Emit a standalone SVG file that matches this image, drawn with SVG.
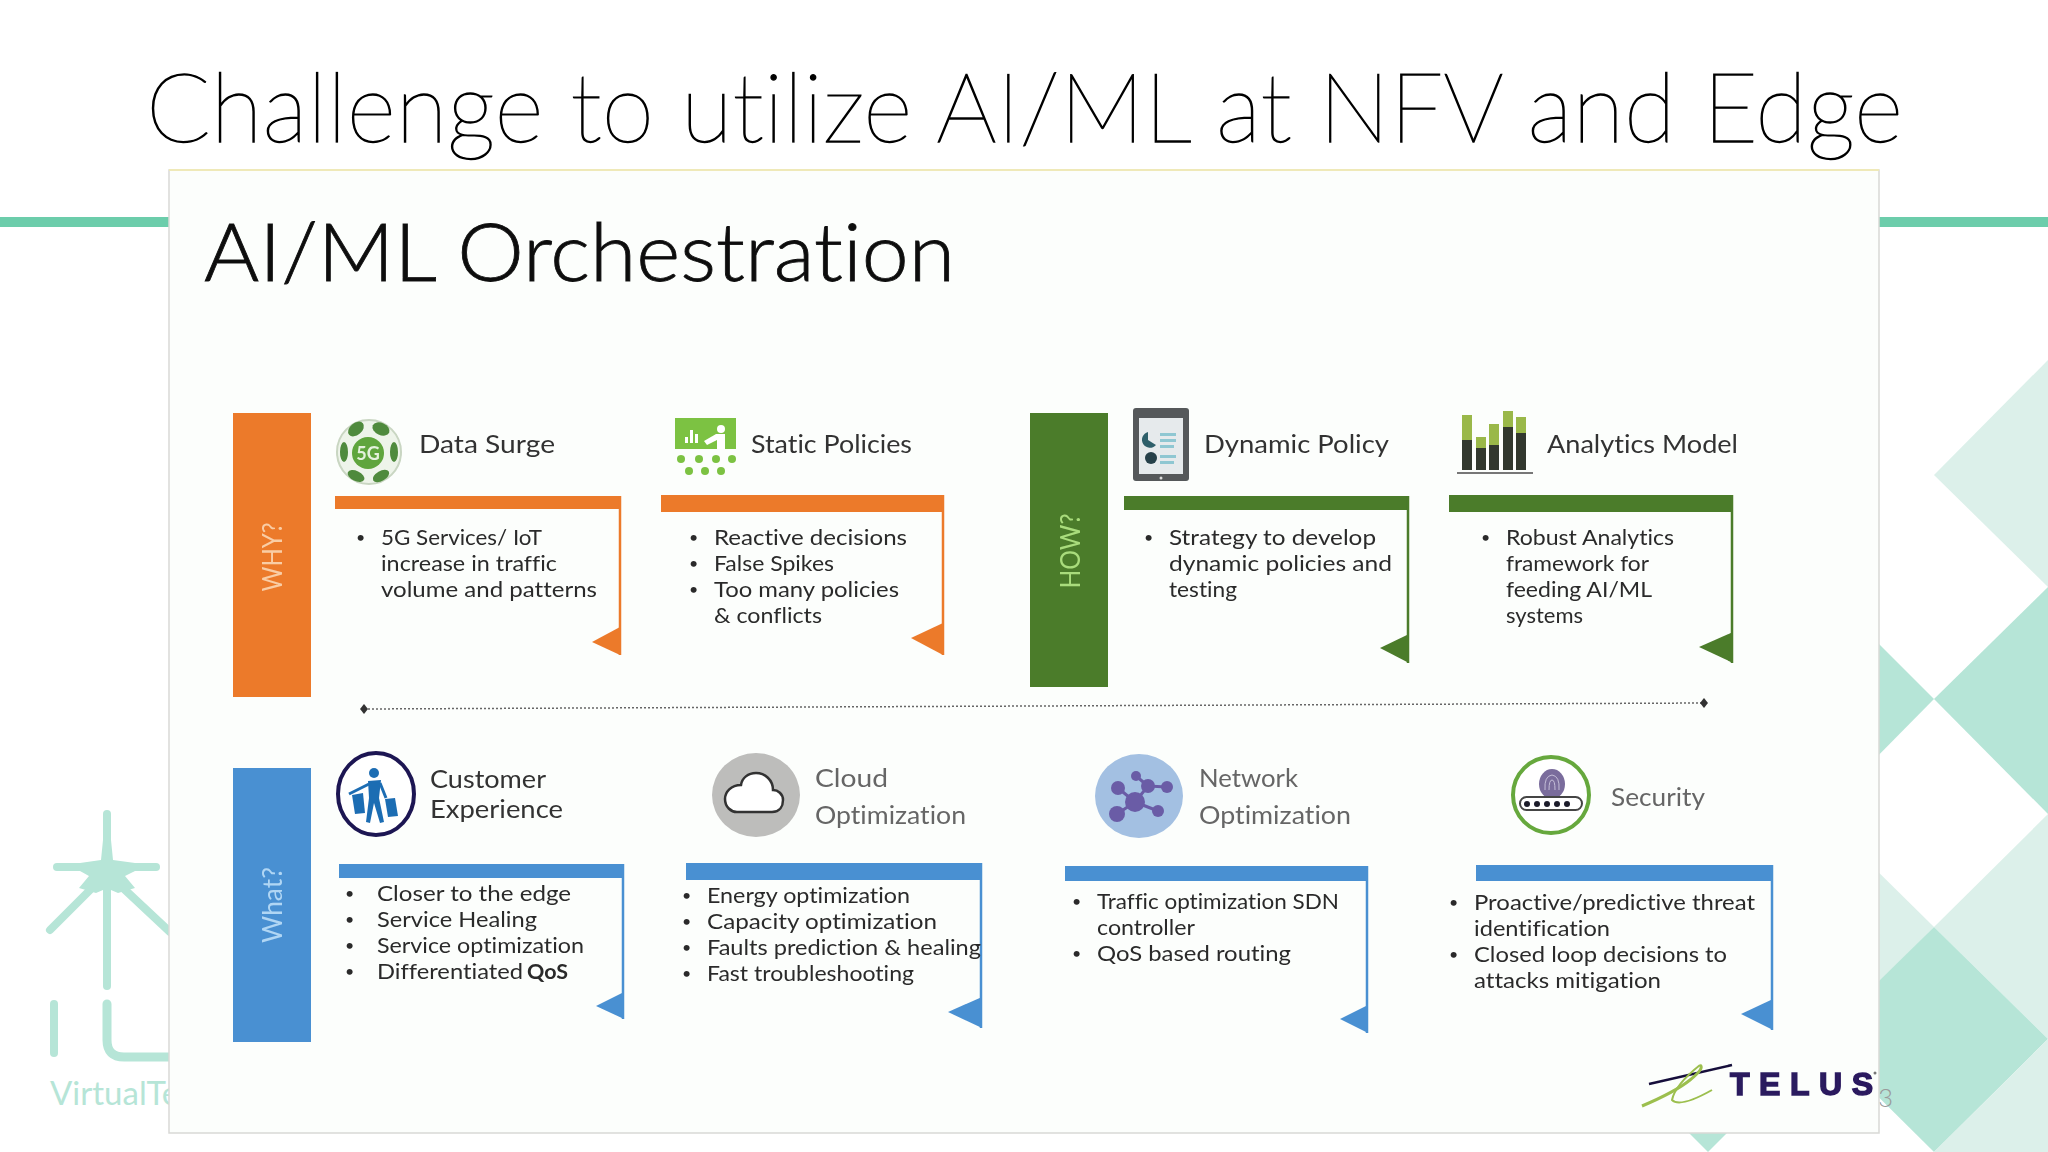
<svg xmlns="http://www.w3.org/2000/svg" width="2048" height="1152" viewBox="0 0 2048 1152">
<style>
text{font-family:Lato,"Liberation Sans",sans-serif;font-variant-ligatures:none}
.t{font-size:97px;font-weight:100;fill:#000;stroke:#000;stroke-width:1.3px}
.pt{font-size:80px;font-weight:300;fill:#111;stroke:#111;stroke-width:.8px}
.h{font-size:25px;fill:#333}
.g{font-size:25px;fill:#666}
.b{font-size:21px;fill:#2b2b2b}
.d{font-size:16px;fill:#2b2b2b}
.v{font-size:27px;text-anchor:middle}
.o{fill:#ec7a2c}.og{fill:#4b7b2a}.bl{fill:#4a90d2}
.lo{stroke:#ec7a2c}.lg{stroke:#4b7b2a}.lb{stroke:#4a90d2}
.e{stroke-width:2.5;fill:none}
.m{fill:#b6e5d7}.l{fill:#dcf0ea}
</style>
<defs>
<marker id="dia" markerWidth="10" markerHeight="10" refX="5" refY="5" markerUnits="userSpaceOnUse"><path d="M5 0 9 5 5 10 1 5Z" fill="#333"/></marker>
<filter id="soft" filterUnits="userSpaceOnUse" x="0" y="0" width="2048" height="1152"><feGaussianBlur stdDeviation="0.55"/></filter>
</defs>
<rect width="2048" height="1152" fill="#fff"/>
<g id="background">
<rect x="0" y="217" width="2048" height="10" fill="#6ccdab"/>
<path class="l" d="M2048 360 1934 475 2048 587Z"/>
<path class="m" d="M2048 587 1934 699 2048 814Z"/>
<path class="m" d="M1860 625 1934 699 1860 774Z"/>
<path class="l" d="M2048 814 1934 927 2048 1039Z"/>
<path class="l" d="M1860 854 1934 927 1860 1002Z"/>
<path class="m" d="M1934 927 2048 1039 1934 1152 1820 1039Z"/>
<path class="l" d="M2048 1039 1934 1152H2048Z"/>
<path class="m" d="M1688 1132 1708 1152 1728 1132Z"/>
<g fill="none" stroke="#b6e5d7" stroke-linecap="round">
<path d="M107 814V986" stroke-width="8"/>
<path d="M57 867H156" stroke-width="8"/>
<path d="M107 873 50 930M107 873 170 932" stroke-width="8"/>
<path d="M54 1004V1053" stroke-width="8"/>
<path d="M107 1004V1040Q107 1057 124 1057H175" stroke-width="9"/>
</g>
<path class="m" d="M103 840 111 840 113 860 135 863 135 871 125 876 135 888 118 893 111 890 103 890 96 893 79 888 89 876 80 871 80 863 101 860Z"/>
<text x="50" y="1105" font-size="33" fill="#b6e5d7">VirtualTe</text>
<text x="1878" y="1107" font-size="26" font-weight="300" fill="#9a9a9a">3</text>
</g>
<text id="title" class="t" x="146" y="142" textLength="1757" lengthAdjust="spacingAndGlyphs">Challenge to utilize AI/ML at NFV and Edge</text>
<rect id="panel" x="169" y="170" width="1710" height="963" fill="#fcfefc" stroke="#d9d9d6" stroke-width="1.5"/>
<path d="M169 170H1879" stroke="#efe9b8" stroke-width="2"/>
<g filter="url(#soft)">
<text id="panel-title" class="pt" x="204" y="281" textLength="751" lengthAdjust="spacingAndGlyphs">AI/ML Orchestration</text>

<g id="connectors">
<path d="M364 709 1704 703" fill="none" stroke="#666" stroke-width="1.5" stroke-dasharray="2 2" marker-start="url(#dia)" marker-end="url(#dia)"/>
</g>

<g id="why"><rect class="o" x="233" y="413" width="78" height="284"/>
<text class="v" fill="#f9cda5" transform="translate(282 557) rotate(-90)" textLength="69" lengthAdjust="spacingAndGlyphs">WHY?</text></g>
<g id="how"><rect class="og" x="1030" y="413" width="78" height="274"/>
<text class="v" fill="#a9dc7c" transform="translate(1080 551) rotate(-90)" textLength="75" lengthAdjust="spacingAndGlyphs">HOW?</text></g>
<g id="what"><rect class="bl" x="233" y="768" width="78" height="274"/>
<text class="v" fill="#b0d6f4" transform="translate(282 905) rotate(-90)" textLength="76" lengthAdjust="spacingAndGlyphs">What?</text></g>

<g id="data-surge">
<circle cx="369" cy="452" r="32" fill="#eef4ea" stroke="#c9d6c2" stroke-width="2"/>
<g fill="#4f8a3c">
<ellipse cx="356" cy="429" rx="9" ry="6" transform="rotate(-40 356 429)"/>
<ellipse cx="381" cy="429" rx="9" ry="6" transform="rotate(25 381 429)"/>
<ellipse cx="344" cy="452" rx="4" ry="10"/>
<ellipse cx="394" cy="452" rx="4" ry="10"/>
<ellipse cx="356" cy="476" rx="9" ry="5" transform="rotate(25 356 476)"/>
<ellipse cx="381" cy="476" rx="9" ry="5" transform="rotate(-30 381 476)"/>
</g>
<circle cx="368" cy="453" r="16" fill="#5fa53c"/>
<text x="368" y="460" font-size="18" font-weight="700" fill="#e4f1dc" text-anchor="middle">5G</text>
<text class="h" x="419" y="453" textLength="136" lengthAdjust="spacingAndGlyphs">Data Surge</text>
<rect class="o" x="335" y="496" width="285" height="13"/>
<path class="e lo" d="M620 496V655"/><path class="o" d="M620 627 592 642 620 655Z"/>
<text class="d" x="356" y="543">•</text>
<text class="b" x="381" y="545" textLength="161" lengthAdjust="spacingAndGlyphs">5G Services/ IoT</text>
<text class="b" x="381" y="571" textLength="176" lengthAdjust="spacingAndGlyphs">increase in traffic</text>
<text class="b" x="381" y="597" textLength="216" lengthAdjust="spacingAndGlyphs">volume and patterns</text>
</g>

<g id="static-policies">
<rect x="675" y="418" width="61" height="31" fill="#7cc242"/>
<g fill="#fff"><rect x="685" y="437" width="3" height="6"/><rect x="690" y="430" width="3" height="13"/><rect x="695" y="434" width="3" height="9"/><circle cx="721" cy="429" r="4"/><path d="M704 441 716 434H725V449H717V440L707 445Z"/></g>
<g fill="#7cc242"><circle cx="681" cy="459" r="4"/><circle cx="699" cy="459" r="4"/><circle cx="716" cy="459" r="4"/><circle cx="732" cy="459" r="4"/><circle cx="689" cy="471" r="4"/><circle cx="705" cy="471" r="4"/><circle cx="721" cy="471" r="4"/></g>
<text class="h" x="751" y="453" textLength="161" lengthAdjust="spacingAndGlyphs">Static Policies</text>
<rect class="o" x="661" y="495" width="282" height="17"/>
<path class="e lo" d="M943 495V655"/><path class="o" d="M943 623 911 638 943 655Z"/>
<text class="d" x="689" y="543">•</text><text class="d" x="689" y="569">•</text><text class="d" x="689" y="595">•</text>
<text class="b" x="714" y="545" textLength="193" lengthAdjust="spacingAndGlyphs">Reactive decisions</text>
<text class="b" x="714" y="571" textLength="120" lengthAdjust="spacingAndGlyphs">False Spikes</text>
<text class="b" x="714" y="597" textLength="185" lengthAdjust="spacingAndGlyphs">Too many policies</text>
<text class="b" x="714" y="623" textLength="108" lengthAdjust="spacingAndGlyphs">&amp; conflicts</text>
</g>

<g id="dynamic-policy">
<rect x="1133" y="408" width="56" height="73" rx="3" fill="#54585a"/>
<rect x="1139" y="418" width="44" height="56" fill="#e6eaec"/>
<path d="M1148 432A8 8 0 1 0 1156 445L1148 440Z" fill="#2f5f6a"/>
<circle cx="1151" cy="458" r="6" fill="#26404a"/>
<g fill="#8fc7d2"><rect x="1160" y="433" width="16" height="3"/><rect x="1160" y="439" width="16" height="3"/><rect x="1160" y="445" width="14" height="3"/><rect x="1160" y="455" width="16" height="3"/><rect x="1160" y="461" width="14" height="3"/></g>
<circle cx="1161" cy="478" r="1.5" fill="#ddd"/>
<text class="h" x="1204" y="453" textLength="185" lengthAdjust="spacingAndGlyphs">Dynamic Policy</text>
<rect class="og" x="1124" y="496" width="285" height="14"/>
<path class="e lg" d="M1408 496V663"/><path class="og" d="M1409 634 1380 648 1409 663Z"/>
<text class="d" x="1144" y="543">•</text>
<text class="b" x="1169" y="545" textLength="207" lengthAdjust="spacingAndGlyphs">Strategy to develop</text>
<text class="b" x="1169" y="571" textLength="223" lengthAdjust="spacingAndGlyphs">dynamic policies and</text>
<text class="b" x="1169" y="597" textLength="68" lengthAdjust="spacingAndGlyphs">testing</text>
</g>

<g id="analytics-model">
<g fill="#9ab84a"><rect x="1462" y="415" width="10" height="26"/><rect x="1476" y="437" width="10" height="12"/><rect x="1489" y="424" width="10" height="22"/><rect x="1503" y="411" width="10" height="17"/><rect x="1516" y="417" width="10" height="17"/></g>
<g fill="#30392f"><rect x="1462" y="440" width="10" height="30"/><rect x="1476" y="448" width="10" height="22"/><rect x="1489" y="445" width="10" height="25"/><rect x="1503" y="427" width="10" height="43"/><rect x="1516" y="433" width="10" height="37"/></g>
<rect x="1457" y="472" width="76" height="2" fill="#777"/>
<text class="h" x="1547" y="453" textLength="191" lengthAdjust="spacingAndGlyphs">Analytics Model</text>
<rect class="og" x="1449" y="495" width="284" height="17"/>
<path class="e lg" d="M1732 495V663"/><path class="og" d="M1733 632 1699 647 1733 663Z"/>
<text class="d" x="1481" y="543">•</text>
<text class="b" x="1506" y="545" textLength="168" lengthAdjust="spacingAndGlyphs">Robust Analytics</text>
<text class="b" x="1506" y="571" textLength="143" lengthAdjust="spacingAndGlyphs">framework for</text>
<text class="b" x="1506" y="597" textLength="146" lengthAdjust="spacingAndGlyphs">feeding AI/ML</text>
<text class="b" x="1506" y="623" textLength="77" lengthAdjust="spacingAndGlyphs">systems</text>
</g>

<g id="customer-experience">
<ellipse cx="376" cy="794" rx="38" ry="41" fill="#fff" stroke="#1f1552" stroke-width="4"/>
<circle cx="374" cy="773" r="5" fill="#1f6db3"/>
<path d="M368 781 381 780 379 798 384 822 380 823 374 803 370 823 366 822 369 798Z" fill="#1f6db3"/>
<path d="M369 784 349 794M380 783 386 798" stroke="#1f6db3" stroke-width="3" fill="none"/>
<path d="M352 795 363 793 365 813 355 814Z" fill="#1f6db3"/>
<path d="M385 799 395 798 398 816 388 817Z" fill="#1f6db3"/>
<text class="h" x="430" y="788" textLength="116" lengthAdjust="spacingAndGlyphs">Customer</text>
<text class="h" x="430" y="818" textLength="133" lengthAdjust="spacingAndGlyphs">Experience</text>
<rect class="bl" x="339" y="864" width="285" height="14"/>
<path class="e lb" d="M623 864V1019"/><path class="bl" d="M624 992 596 1006 624 1019Z"/>
<text class="d" x="345" y="899">•</text><text class="d" x="345" y="925">•</text><text class="d" x="345" y="951">•</text><text class="d" x="345" y="977">•</text>
<text class="b" x="377" y="901" textLength="194" lengthAdjust="spacingAndGlyphs">Closer to the edge</text>
<text class="b" x="377" y="927" textLength="160" lengthAdjust="spacingAndGlyphs">Service Healing</text>
<text class="b" x="377" y="953" textLength="207" lengthAdjust="spacingAndGlyphs">Service optimization</text>
<text class="b" x="377" y="979" textLength="146" lengthAdjust="spacingAndGlyphs">Differentiated</text>
<text class="b" x="527" y="979" font-weight="700" textLength="41" lengthAdjust="spacingAndGlyphs">QoS</text>
</g>

<g id="cloud-optimization">
<ellipse cx="756" cy="795" rx="44" ry="42" fill="#bdbdbb"/>
<path d="M737 812H772C780 812 783 806 783 800 783 794 778 790 773 790 773 780 765 773 756 773 748 773 742 778 741 785 731 785 725 792 725 799 725 807 731 812 737 812Z" fill="#fff" stroke="#333" stroke-width="2.5"/>
<text class="g" x="815" y="787" textLength="73" lengthAdjust="spacingAndGlyphs">Cloud</text>
<text class="g" x="815" y="824" textLength="151" lengthAdjust="spacingAndGlyphs">Optimization</text>
<rect class="bl" x="686" y="863" width="296" height="17"/>
<path class="e lb" d="M981 863V1028"/><path class="bl" d="M982 997 948 1012 982 1028Z"/>
<text class="d" x="682" y="901">•</text><text class="d" x="682" y="927">•</text><text class="d" x="682" y="953">•</text><text class="d" x="682" y="979">•</text>
<text class="b" x="707" y="903" textLength="203" lengthAdjust="spacingAndGlyphs">Energy optimization</text>
<text class="b" x="707" y="929" textLength="230" lengthAdjust="spacingAndGlyphs">Capacity optimization</text>
<text class="b" x="707" y="955" textLength="274" lengthAdjust="spacingAndGlyphs">Faults prediction &amp; healing</text>
<text class="b" x="707" y="981" textLength="207" lengthAdjust="spacingAndGlyphs">Fast troubleshooting</text>
</g>

<g id="network-optimization">
<ellipse cx="1139" cy="796" rx="44" ry="42" fill="#a3c0e2"/>
<path d="M1135 802 1118 788M1135 802 1117 814M1135 802 1158 811M1135 802 1148 786 1167 787M1148 786 1136 776" stroke="#6a5ca6" stroke-width="3" fill="none"/>
<g fill="#6a5ca6"><circle cx="1135" cy="802" r="10"/><circle cx="1118" cy="788" r="7"/><circle cx="1117" cy="814" r="8"/><circle cx="1158" cy="811" r="6"/><circle cx="1148" cy="786" r="7"/><circle cx="1167" cy="787" r="6"/><circle cx="1136" cy="776" r="5"/></g>
<text class="g" x="1199" y="787" textLength="99" lengthAdjust="spacingAndGlyphs">Network</text>
<text class="g" x="1199" y="824" textLength="152" lengthAdjust="spacingAndGlyphs">Optimization</text>
<rect class="bl" x="1065" y="866" width="303" height="15"/>
<path class="e lb" d="M1367 866V1033"/><path class="bl" d="M1368 1005 1340 1019 1368 1033Z"/>
<text class="d" x="1072" y="907">•</text><text class="d" x="1072" y="959">•</text>
<text class="b" x="1097" y="909" textLength="242" lengthAdjust="spacingAndGlyphs">Traffic optimization SDN</text>
<text class="b" x="1097" y="935" textLength="98" lengthAdjust="spacingAndGlyphs">controller</text>
<text class="b" x="1097" y="961" textLength="194" lengthAdjust="spacingAndGlyphs">QoS based routing</text>
</g>

<g id="security">
<ellipse cx="1551" cy="795" rx="38" ry="38" fill="#fff" stroke="#66a83c" stroke-width="4"/>
<ellipse cx="1552" cy="784" rx="13" ry="15" fill="#7a6c9c"/>
<path d="M1545 790Q1544 776 1552 775 1560 776 1559 790M1549 790Q1549 780 1552 780 1555 780 1555 790" fill="none" stroke="#c5bed8" stroke-width="1"/>
<rect x="1520" y="797" width="62" height="13" rx="6.5" fill="#fff" stroke="#444" stroke-width="2"/>
<g fill="#1c1c2c"><circle cx="1527" cy="804" r="3"/><circle cx="1537" cy="804" r="3"/><circle cx="1547" cy="804" r="3"/><circle cx="1557" cy="804" r="3"/><circle cx="1567" cy="804" r="3"/></g>
<text class="g" x="1611" y="806" textLength="94" lengthAdjust="spacingAndGlyphs">Security</text>
<rect class="bl" x="1476" y="865" width="297" height="16"/>
<path class="e lb" d="M1772 865V1030"/><path class="bl" d="M1773 999 1741 1014 1773 1030Z"/>
<text class="d" x="1449" y="908">•</text><text class="d" x="1449" y="960">•</text>
<text class="b" x="1474" y="910" textLength="281" lengthAdjust="spacingAndGlyphs">Proactive/predictive threat</text>
<text class="b" x="1474" y="936" textLength="136" lengthAdjust="spacingAndGlyphs">identification</text>
<text class="b" x="1474" y="962" textLength="253" lengthAdjust="spacingAndGlyphs">Closed loop decisions to</text>
<text class="b" x="1474" y="988" textLength="187" lengthAdjust="spacingAndGlyphs">attacks mitigation</text>
</g>

<g id="telus">
<path d="M1649 1084 1732 1065" stroke="#14103a" stroke-width="2.5" fill="none"/>
<path d="M1642 1106Q1675 1092 1690 1080T1700 1065" stroke="#9cbf4e" stroke-width="3" fill="none"/>
<path d="M1700 1065Q1675 1085 1672 1100 1680 1108 1712 1090" stroke="#9cbf4e" stroke-width="2" fill="none"/>
<text x="1730" y="1095" font-size="32" font-weight="700" style="font-family:'Liberation Sans',sans-serif" fill="#2a1a5e" stroke="#2a1a5e" stroke-width="1.5" textLength="143" lengthAdjust="spacing">TELUS</text>
<circle cx="1875" cy="1073" r="1.5" fill="#777"/>
</g>
</g>
</svg>
